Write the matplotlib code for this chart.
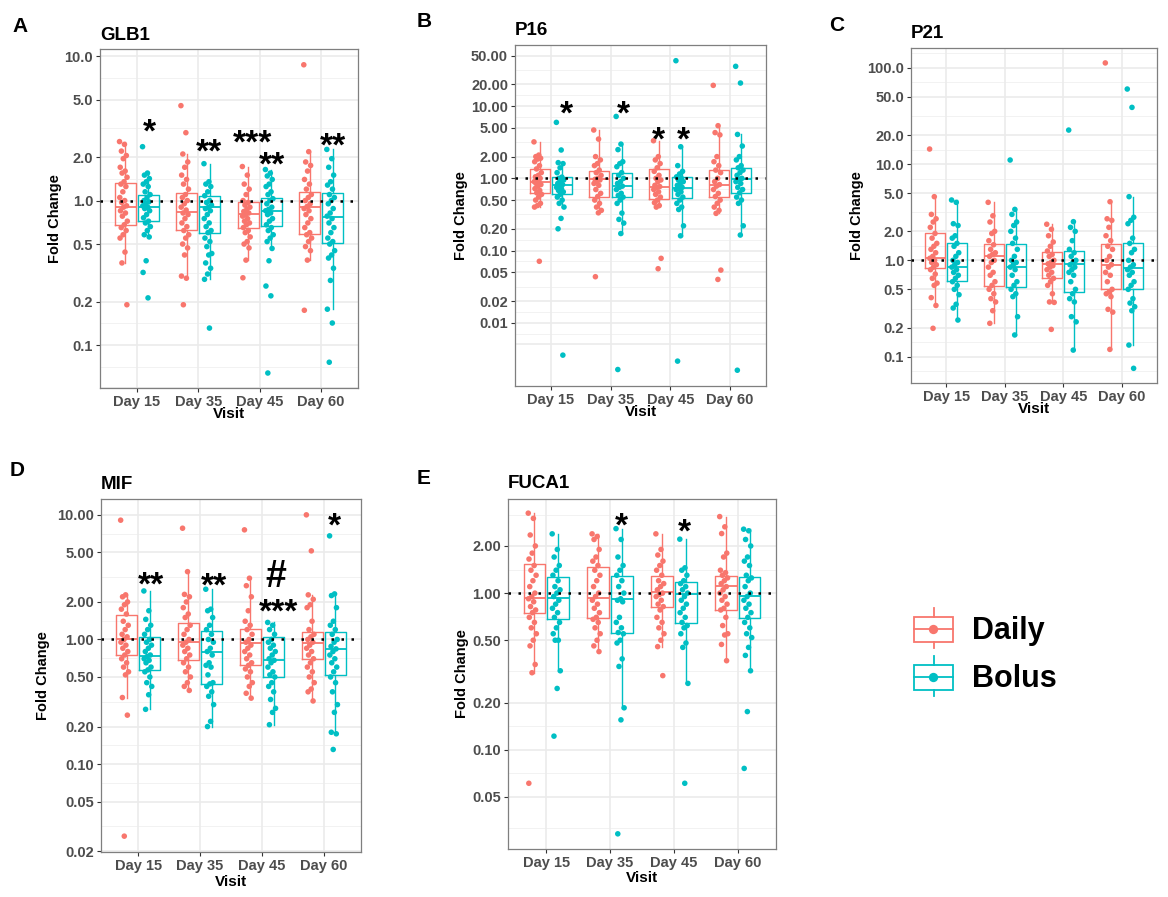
import numpy as np
import matplotlib.pyplot as plt
from matplotlib.ticker import NullLocator
from matplotlib.transforms import offset_copy
from matplotlib.patches import Rectangle

plt.rcParams['font.family'] = ['Liberation Sans', 'DejaVu Sans']

visits = ['Day 15', 'Day 35', 'Day 45', 'Day 60']
daily_col = '#F8766D'
bolus_col = '#00BFC4'

# ---- GLB1 ----
glb1_daily = [
    [2.56, 2.45, 2.2, 2.05, 1.95, 1.7, 1.6, 1.55, 1.45, 1.35, 1.3, 1.25, 1.15, 1.05, 1.0,
     0.97, 0.92, 0.9, 0.85, 0.82, 0.78, 0.72, 0.68, 0.65, 0.62, 0.58, 0.55, 0.44, 0.37, 0.19],
    [4.54, 2.95, 2.1, 1.85, 1.7, 1.5, 1.4, 1.3, 1.2, 1.1, 1.05, 1.0, 0.95, 0.9, 0.86,
     0.82, 0.8, 0.75, 0.7, 0.66, 0.62, 0.58, 0.55, 0.5, 0.47, 0.42, 0.3, 0.29, 0.19],
    [1.72, 1.5, 1.3, 1.2, 1.1, 1.0, 0.97, 0.93, 0.9, 0.87, 0.84, 0.82, 0.8, 0.78, 0.75,
     0.72, 0.7, 0.68, 0.65, 0.62, 0.6, 0.56, 0.52, 0.5, 0.47, 0.387, 0.292],
    [8.71, 2.18, 1.85, 1.75, 1.6, 1.4, 1.3, 1.2, 1.1, 1.05, 1.0, 0.95, 0.91, 0.88, 0.85,
     0.8, 0.75, 0.7, 0.65, 0.6, 0.58, 0.55, 0.52, 0.48, 0.45, 0.387, 0.174],
]
glb1_bolus = [
    [2.36, 1.55, 1.5, 1.42, 1.35, 1.3, 1.25, 1.15, 1.1, 1.05, 1.0, 0.98, 0.95, 0.92, 0.9,
     0.88, 0.85, 0.8, 0.76, 0.72, 0.7, 0.66, 0.62, 0.58, 0.56, 0.383, 0.318, 0.212],
    [1.8, 1.35, 1.3, 1.25, 1.15, 1.08, 1.0, 0.97, 0.93, 0.9, 0.88, 0.85, 0.8, 0.75, 0.7,
     0.66, 0.62, 0.6, 0.55, 0.52, 0.48, 0.43, 0.42, 0.37, 0.34, 0.31, 0.285, 0.131],
    [1.64, 1.55, 1.48, 1.4, 1.3, 1.25, 1.15, 1.1, 1.03, 1.0, 0.95, 0.9, 0.87, 0.85, 0.82,
     0.8, 0.75, 0.72, 0.68, 0.65, 0.62, 0.58, 0.55, 0.52, 0.466, 0.383, 0.256, 0.219, 0.064],
    [2.26, 1.95, 1.7, 1.5, 1.35, 1.28, 1.2, 1.1, 1.05, 1.0, 0.95, 0.88, 0.82, 0.78, 0.75,
     0.7, 0.65, 0.6, 0.55, 0.52, 0.5, 0.45, 0.42, 0.4, 0.34, 0.28, 0.177, 0.142, 0.076],
]
# box stats: [whisker low, q1, median, q3, whisker high]
glb1_box_daily = [[0.367, 0.676, 0.906, 1.315, 2.56], [0.296, 0.624, 0.84, 1.13, 2.1],
                  [0.387, 0.65, 0.805, 0.97, 1.72], [0.387, 0.59, 0.908, 1.15, 2.18]]
glb1_box_bolus = [[0.56, 0.72, 0.906, 1.10, 1.55], [0.285, 0.60, 0.906, 1.08, 1.8],
                  [0.466, 0.668, 0.845, 1.035, 1.64], [0.177, 0.505, 0.773, 1.12, 2.26]]
glb1_sig = [(1.2, 3.5, '*'), (2.18, 2.56, '**'), (2.89, 2.92, '***'), (3.2, 2.07, '**'), (4.2, 2.8, '**')]

# ---- P16 ----
p16_daily = [
    [3.2, 2.1, 2.0, 1.9, 1.85, 1.7, 1.5, 1.35, 1.2, 1.1, 1.05, 1.0, 0.95, 0.9, 0.87,
     0.85, 0.82, 0.78, 0.72, 0.68, 0.63, 0.6, 0.55, 0.5, 0.45, 0.42, 0.4, 0.071],
    [4.67, 3.5, 2.0, 1.8, 1.6, 1.5, 1.3, 1.2, 1.1, 1.0, 0.97, 0.95, 0.9, 0.85, 0.8,
     0.7, 0.62, 0.56, 0.5, 0.45, 0.4, 0.36, 0.333, 0.0434],
    [3.32, 2.0, 1.8, 1.6, 1.4, 1.25, 1.1, 1.0, 0.95, 0.9, 0.8, 0.77, 0.75, 0.7, 0.65,
     0.6, 0.55, 0.5, 0.46, 0.42, 0.4, 0.078, 0.056],
    [19.4, 5.36, 4.3, 4.0, 2.0, 1.7, 1.5, 1.3, 1.2, 1.0, 0.9, 0.82, 0.78, 0.7, 0.62,
     0.56, 0.5, 0.45, 0.4, 0.36, 0.327, 0.0536, 0.0398],
]
p16_bolus = [
    [5.96, 2.47, 1.65, 1.6, 1.4, 1.2, 1.04, 1.0, 0.95, 0.9, 0.85, 0.82, 0.78, 0.75, 0.72,
     0.68, 0.65, 0.6, 0.55, 0.5, 0.45, 0.4, 0.279, 0.2, 0.00356],
    [7.2, 2.98, 2.5, 1.7, 1.6, 1.45, 1.2, 1.1, 1.0, 0.9, 0.85, 0.78, 0.75, 0.7, 0.62,
     0.58, 0.55, 0.5, 0.45, 0.33, 0.27, 0.24, 0.172, 0.00225],
    [42.6, 2.74, 1.5, 1.25, 1.15, 1.05, 1.0, 0.95, 0.9, 0.85, 0.8, 0.75, 0.72, 0.7, 0.65,
     0.6, 0.55, 0.5, 0.45, 0.4, 0.37, 0.22, 0.16, 0.00294],
    [35.6, 20.9, 4.06, 2.8, 2.0, 1.8, 1.5, 1.4, 1.3, 1.2, 1.1, 1.0, 0.97, 0.9, 0.85,
     0.75, 0.7, 0.63, 0.55, 0.5, 0.45, 0.22, 0.164, 0.0022],
]
p16_box_daily = [[0.40, 0.63, 0.89, 1.36, 3.2], [0.333, 0.556, 0.97, 1.26, 4.67],
                 [0.40, 0.516, 0.766, 1.36, 3.32], [0.327, 0.556, 0.80, 1.29, 5.36]]
p16_box_bolus = [[0.40, 0.60, 0.80, 1.04, 1.65], [0.172, 0.556, 0.78, 1.2, 2.98],
                 [0.16, 0.54, 0.74, 1.05, 2.74], [0.164, 0.63, 0.97, 1.40, 4.06]]
p16_sig = [(1.26, 10.6, '*'), (2.22, 10.6, '*'), (2.8, 4.67, '*'), (3.21, 4.67, '*')]

# ---- P21 ----
p21_daily = [
    [14.3, 4.58, 3.0, 2.7, 2.5, 2.2, 1.9, 1.7, 1.5, 1.4, 1.3, 1.2, 1.1, 1.05, 1.0,
     0.95, 0.9, 0.85, 0.8, 0.72, 0.65, 0.58, 0.55, 0.41, 0.34, 0.197],
    [4.0, 2.9, 2.5, 2.0, 1.9, 1.6, 1.45, 1.3, 1.2, 1.15, 1.1, 1.0, 0.95, 0.85, 0.75,
     0.7, 0.6, 0.55, 0.5, 0.45, 0.4, 0.37, 0.3, 0.222],
    [2.37, 2.1, 1.8, 1.55, 1.4, 1.25, 1.15, 1.1, 1.0, 0.95, 0.92, 0.88, 0.85, 0.8, 0.75,
     0.7, 0.65, 0.6, 0.55, 0.45, 0.37, 0.366, 0.192],
    [112, 4.06, 2.7, 2.6, 2.2, 1.8, 1.6, 1.4, 1.3, 1.1, 1.0, 0.9, 0.85, 0.75, 0.7,
     0.6, 0.5, 0.47, 0.45, 0.42, 0.31, 0.29, 0.119],
]
p21_bolus = [
    [4.23, 4.0, 2.4, 2.3, 1.8, 1.7, 1.5, 1.4, 1.2, 1.1, 1.0, 0.95, 0.9, 0.85, 0.8,
     0.75, 0.7, 0.65, 0.6, 0.55, 0.5, 0.44, 0.35, 0.32, 0.24],
    [11.0, 3.38, 3.0, 2.5, 2.3, 2.0, 1.7, 1.5, 1.3, 1.1, 1.0, 0.95, 0.9, 0.85, 0.8,
     0.7, 0.6, 0.55, 0.5, 0.45, 0.42, 0.26, 0.168],
    [22.5, 2.52, 2.2, 2.0, 1.6, 1.3, 1.2, 1.1, 1.0, 0.95, 0.9, 0.85, 0.8, 0.75, 0.7,
     0.6, 0.5, 0.45, 0.4, 0.37, 0.26, 0.23, 0.117],
    [60, 38.7, 4.58, 2.8, 2.6, 2.4, 1.7, 1.5, 1.3, 1.2, 1.0, 0.9, 0.85, 0.8, 0.75,
     0.7, 0.6, 0.55, 0.5, 0.4, 0.36, 0.33, 0.3, 0.132, 0.0757],
]
p21_box_daily = [[0.34, 0.826, 1.05, 1.9, 4.58], [0.222, 0.546, 1.12, 1.47, 4.0],
                 [0.366, 0.65, 0.916, 1.21, 2.37], [0.119, 0.504, 0.895, 1.47, 4.06]]
p21_box_bolus = [[0.24, 0.615, 0.845, 1.5, 4.23], [0.168, 0.525, 0.845, 1.47, 3.38],
                 [0.117, 0.466, 0.916, 1.25, 2.52], [0.132, 0.5, 0.826, 1.5, 4.58]]
p21_sig = []

# ---- MIF ----
mif_daily = [
    [9.06, 2.28, 2.2, 2.0, 1.9, 1.75, 1.6, 1.4, 1.3, 1.2, 1.1, 1.05, 1.0, 0.95, 0.9,
     0.85, 0.8, 0.75, 0.7, 0.65, 0.6, 0.55, 0.52, 0.342, 0.247, 0.0264],
    [7.81, 3.5, 2.3, 2.2, 2.0, 1.8, 1.6, 1.5, 1.3, 1.2, 1.1, 1.0, 0.95, 0.9, 0.85,
     0.8, 0.75, 0.7, 0.65, 0.6, 0.55, 0.5, 0.45, 0.42, 0.39],
    [7.58, 3.1, 2.7, 2.2, 1.7, 1.4, 1.3, 1.2, 1.1, 1.0, 0.95, 0.9, 0.85, 0.8, 0.75,
     0.7, 0.65, 0.62, 0.58, 0.55, 0.5, 0.45, 0.42, 0.37, 0.338],
    [10.0, 5.14, 2.28, 2.1, 1.9, 1.8, 1.4, 1.2, 1.1, 1.05, 1.0, 0.95, 0.9, 0.85, 0.8,
     0.75, 0.7, 0.65, 0.6, 0.55, 0.5, 0.45, 0.4, 0.38, 0.321],
]
mif_bolus = [
    [2.45, 1.7, 1.45, 1.3, 1.2, 1.1, 1.0, 0.95, 0.9, 0.85, 0.8, 0.75, 0.73, 0.7, 0.68,
     0.65, 0.6, 0.57, 0.55, 0.5, 0.45, 0.42, 0.36, 0.275],
    [2.53, 1.75, 1.7, 1.5, 1.3, 1.2, 1.1, 1.0, 0.95, 0.85, 0.8, 0.75, 0.65, 0.62, 0.6,
     0.52, 0.45, 0.44, 0.42, 0.38, 0.35, 0.3, 0.22, 0.2],
    [1.37, 1.3, 1.2, 1.1, 1.0, 0.95, 0.9, 0.85, 0.8, 0.75, 0.7, 0.68, 0.65, 0.6, 0.55,
     0.52, 0.5, 0.45, 0.42, 0.38, 0.33, 0.28, 0.26, 0.207],
    [6.78, 2.32, 2.25, 1.8, 1.4, 1.3, 1.2, 1.1, 1.0, 0.95, 0.88, 0.84, 0.8, 0.75, 0.7,
     0.65, 0.6, 0.55, 0.5, 0.45, 0.38, 0.3, 0.26, 0.18, 0.175, 0.131],
]
mif_box_daily = [[0.342, 0.75, 1.01, 1.56, 2.28], [0.39, 0.685, 0.95, 1.35, 3.5],
                 [0.338, 0.625, 0.933, 1.22, 3.1], [0.321, 0.698, 0.933, 1.14, 2.28]]
mif_box_bolus = [[0.275, 0.57, 0.73, 1.04, 2.45], [0.20, 0.44, 0.80, 1.17, 2.53],
                 [0.207, 0.498, 0.685, 1.04, 1.37], [0.175, 0.514, 0.836, 1.14, 2.32]]
mif_sig = [(1.2, 3.3, '**'), (2.22, 3.2, '**'), (3.23, 3.4, '#'), (3.27, 1.98, '***'), (4.17, 9.7, '*')]

# ---- FUCA1 ----
fuca1_daily = [
    [3.24, 3.0, 2.35, 2.0, 1.8, 1.65, 1.5, 1.4, 1.3, 1.2, 1.1, 1.0, 0.95, 0.92, 0.88,
     0.82, 0.78, 0.75, 0.7, 0.65, 0.6, 0.55, 0.5, 0.46, 0.35, 0.31, 0.061],
    [2.39, 2.3, 2.2, 1.9, 1.7, 1.6, 1.5, 1.4, 1.3, 1.2, 1.1, 1.0, 0.95, 0.9, 0.85,
     0.8, 0.75, 0.7, 0.68, 0.65, 0.6, 0.55, 0.5, 0.46, 0.423],
    [2.39, 1.9, 1.75, 1.6, 1.5, 1.4, 1.3, 1.2, 1.15, 1.1, 1.05, 1.0, 0.98, 0.95, 0.9,
     0.85, 0.82, 0.78, 0.7, 0.65, 0.6, 0.55, 0.5, 0.455, 0.297],
    [3.08, 2.65, 2.4, 1.8, 1.7, 1.4, 1.35, 1.3, 1.25, 1.2, 1.15, 1.1, 1.05, 1.0, 0.95,
     0.9, 0.85, 0.8, 0.78, 0.7, 0.62, 0.55, 0.54, 0.47, 0.37],
]
fuca1_bolus = [
    [2.39, 1.9, 1.7, 1.5, 1.4, 1.3, 1.2, 1.1, 1.05, 1.0, 0.95, 0.9, 0.85, 0.8, 0.75,
     0.7, 0.65, 0.6, 0.55, 0.5, 0.5, 0.319, 0.246, 0.122],
    [2.58, 2.2, 1.7, 1.5, 1.4, 1.3, 1.2, 1.1, 1.0, 0.92, 0.9, 0.88, 0.7, 0.65, 0.6,
     0.56, 0.55, 0.5, 0.48, 0.38, 0.34, 0.185, 0.155, 0.029],
    [2.21, 1.45, 1.4, 1.3, 1.2, 1.15, 1.1, 1.05, 1.0, 0.95, 0.9, 0.85, 0.8, 0.75, 0.7,
     0.65, 0.62, 0.6, 0.55, 0.48, 0.45, 0.265, 0.061],
    [2.56, 2.5, 2.2, 2.0, 1.7, 1.6, 1.5, 1.3, 1.25, 1.2, 1.1, 1.0, 0.95, 0.9, 0.85,
     0.8, 0.75, 0.7, 0.65, 0.6, 0.55, 0.52, 0.45, 0.4, 0.319, 0.175, 0.0759],
]
fuca1_box_daily = [[0.31, 0.743, 0.936, 1.54, 3.24], [0.423, 0.69, 0.936, 1.47, 2.39],
                   [0.455, 0.811, 1.02, 1.29, 2.39], [0.37, 0.78, 1.11, 1.28, 3.08]]
fuca1_box_bolus = [[0.319, 0.683, 0.927, 1.26, 2.39], [0.185, 0.558, 0.912, 1.29, 2.58],
                   [0.265, 0.647, 0.986, 1.18, 2.21], [0.319, 0.69, 0.957, 1.27, 2.56]]
fuca1_sig = [(2.17, 3.11, '*'), (3.17, 2.86, '*')]

W, H = 1168, 897
fig = plt.figure(figsize=(W / 100, H / 100), dpi=100)
fig.patch.set_facecolor('white')

NICE = [m * 10.0 ** k for k in range(-4, 4) for m in (1, 2, 5)]


def px_rect(x0, y0, x1, y1):
    return [x0 / W, 1 - y1 / H, (x1 - x0) / W, (y1 - y0) / H]


def jitter(n, width=0.065):
    k = np.arange(n)
    return ((k * 0.6180339887) % 1.0 - 0.5) * 2 * width


def draw_panel(box, letter, letter_xy, title, title_y, ylab_x, visit_y,
               daily, bolus, box_d, box_b, ylim, ticks, labels, sig):
    ax = fig.add_axes(px_rect(*box))
    ax.set_yscale('log')
    ax.set_xlim(0.4, 4.6)
    ax.set_ylim(*ylim)

    # grid
    i0 = min(range(len(NICE)), key=lambda i: abs(np.log10(NICE[i] / ticks[0])))
    i1 = min(range(len(NICE)), key=lambda i: abs(np.log10(NICE[i] / ticks[-1])))
    majors = NICE[max(i0 - 1, 0):i1 + 2]
    for v in majors:
        ax.axhline(v, color='#EBEBEB', lw=1.2, zorder=0)
    for a, b in zip(majors[:-1], majors[1:]):
        ax.axhline(np.sqrt(a * b), color='#F0F0F0', lw=0.6, zorder=0)
    for i in range(1, 5):
        ax.axvline(i, color='#EBEBEB', lw=1.2, zorder=0)

    for grp, pts, stats, col, off in ((0, daily, box_d, daily_col, -0.1875),
                                      (1, bolus, box_b, bolus_col, 0.1875)):
        st = [dict(whislo=s[0], q1=s[1], med=s[2], q3=s[3], whishi=s[4], fliers=[])
              for s in stats]
        pos = [i + 1 + off for i in range(4)]
        ax.bxp(st, positions=pos, widths=0.3375, showcaps=False, showfliers=False,
               boxprops=dict(color=col, lw=1.0),
               whiskerprops=dict(color=col, lw=1.0),
               medianprops=dict(color=col, lw=1.3), manage_ticks=False, zorder=2)
        for i, vals in enumerate(pts):
            x = i + 1 + off - 0.03 + jitter(len(vals))
            ax.scatter(x, vals, s=16, color=col, edgecolors='none', zorder=3)

    ax.axhline(1.0, color='black', lw=1.8, linestyle=(0, (1, 3)), zorder=4)

    for x, y, txt in sig:
        if txt == '#':
            tr = offset_copy(ax.transData, fig=fig, x=0, y=-13.5, units='dots')
            ax.text(x, y, txt, transform=tr, ha='center', va='baseline',
                    fontsize=27, fontweight='bold', zorder=5)
        else:
            tr = offset_copy(ax.transData, fig=fig, x=0, y=-19.5, units='dots')
            ax.text(x, y, txt, transform=tr, ha='center', va='baseline',
                    fontsize=24, fontweight='bold', zorder=5)

    ax.set_xticks(range(1, 5))
    ax.set_xticklabels(visits)
    ax.set_yticks(ticks)
    ax.set_yticklabels(labels)
    ax.yaxis.set_minor_locator(NullLocator())
    ax.tick_params(axis='both', length=3, width=0.8, color='#333333', pad=2,
                   labelsize=10.5, labelcolor='#4D4D4D')
    for lab in ax.get_xticklabels() + ax.get_yticklabels():
        lab.set_fontweight('bold')
    for sp in ax.spines.values():
        sp.set_color('#7F7F7F')
        sp.set_linewidth(0.9)
    ax.set_facecolor('white')

    fig.text(letter_xy[0] / W, 1 - letter_xy[1] / H, letter, fontsize=15,
             fontweight='bold', ha='left', va='baseline')
    fig.text(box[0] / W, 1 - title_y / H, title, fontsize=13.5, fontweight='bold',
             ha='left', va='baseline')
    fig.text(ylab_x / W, 1 - (box[1] + box[3]) / 2 / H, 'Fold Change', rotation=90,
             fontsize=10.5, fontweight='bold', ha='center', va='center')
    fig.text((box[0] + box[2]) / 2 / W, 1 - visit_y / H, 'Visit', fontsize=11,
             fontweight='bold', ha='center', va='center')
    return ax


draw_panel((100, 49, 358, 388), 'A', (12, 32), 'GLB1', 40, 55, 414,
           glb1_daily, glb1_bolus, glb1_box_daily, glb1_box_bolus,
           (0.0504, 11.2), [0.1, 0.2, 0.5, 1, 2, 5, 10],
           ['0.1', '0.2', '0.5', '1.0', '2.0', '5.0', '10.0'], glb1_sig)

draw_panel((515, 45, 766, 386), 'B', (417, 27), 'P16', 35, 461, 412,
           p16_daily, p16_bolus, p16_box_daily, p16_box_bolus,
           (0.00133, 70.3), [0.01, 0.02, 0.05, 0.1, 0.2, 0.5, 1, 2, 5, 10, 20, 50],
           ['0.01', '0.02', '0.05', '0.10', '0.20', '0.50', '1.00', '2.00', '5.00',
            '10.00', '20.00', '50.00'], p16_sig)

draw_panel((911, 48, 1157, 383), 'C', (829, 31), 'P21', 38, 857, 409,
           p21_daily, p21_bolus, p21_box_daily, p21_box_bolus,
           (0.0533, 160), [0.1, 0.2, 0.5, 1, 2, 5, 10, 20, 50, 100],
           ['0.1', '0.2', '0.5', '1.0', '2.0', '5.0', '10.0', '20.0', '50.0', '100.0'],
           p21_sig)

draw_panel((101, 499, 361, 852), 'D', (10, 476), 'MIF', 489, 43, 882,
           mif_daily, mif_bolus, mif_box_daily, mif_box_bolus,
           (0.0197, 13.4), [0.02, 0.05, 0.1, 0.2, 0.5, 1, 2, 5, 10],
           ['0.02', '0.05', '0.10', '0.20', '0.50', '1.00', '2.00', '5.00', '10.00'],
           mif_sig)

draw_panel((508, 499, 776, 849), 'E', (417, 484), 'FUCA1', 488, 462, 878,
           fuca1_daily, fuca1_bolus, fuca1_box_daily, fuca1_box_bolus,
           (0.0232, 3.99), [0.05, 0.1, 0.2, 0.5, 1, 2],
           ['0.05', '0.10', '0.20', '0.50', '1.00', '2.00'], fuca1_sig)

# legend drawn in pixel space
lg = fig.add_axes([0, 0, 1, 1], zorder=10)
lg.set_xlim(0, W)
lg.set_ylim(H, 0)
lg.axis('off')
lg.patch.set_alpha(0)
for (name, col, top) in (('Daily', daily_col, 617), ('Bolus', bolus_col, 665)):
    cx = 933.5
    lg.add_patch(Rectangle((914, top), 39, 25, fill=False, edgecolor=col, lw=1.3))
    lg.plot([cx, cx], [top - 9, top], color=col, lw=1.3)
    lg.plot([cx, cx], [top + 25, top + 31], color=col, lw=1.3)
    lg.plot([914, 953], [top + 12.5, top + 12.5], color=col, lw=1.3)
    lg.scatter([cx], [top + 12.5], s=45, color=col, edgecolors='none')
    lg.text(972, top + 14, name, fontsize=22, fontweight='bold', ha='left', va='center')

fig.savefig('out.png', dpi=100, facecolor='white')
